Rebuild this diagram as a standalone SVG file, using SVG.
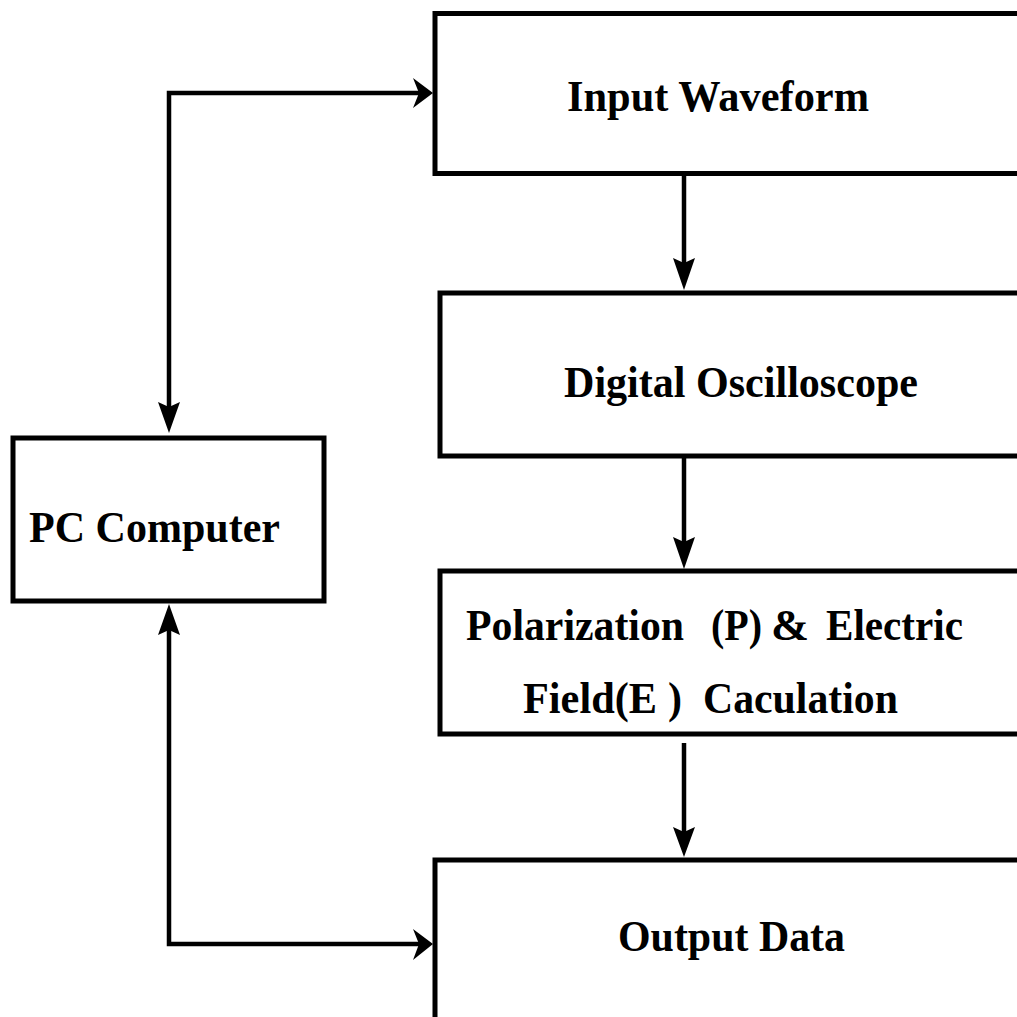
<svg xmlns="http://www.w3.org/2000/svg" width="1017" height="1017" viewBox="0 0 1017 1017">
<style>
.box{fill:#fff;stroke:#000;stroke-width:5}
.ln{fill:none;stroke:#000;stroke-width:4.5;stroke-linejoin:miter;stroke-linecap:butt}
.hd{fill:#000;stroke:none}
.t{font-family:"Liberation Serif","Times New Roman",serif;font-weight:bold;font-size:45px;fill:#000}
</style>
<rect width="1017" height="1017" fill="#fff"/>
<g id="input-waveform">
<rect class="box" x="435" y="13.5" width="640" height="160"/>
<text class="t" x="567" y="111" textLength="302" lengthAdjust="spacingAndGlyphs">Input Waveform</text>
</g>
<g id="digital-oscilloscope">
<rect class="box" x="440" y="293" width="640" height="163"/>
<text class="t" x="564" y="397" textLength="354" lengthAdjust="spacingAndGlyphs">Digital Oscilloscope</text>
</g>
<g id="pe-calculation">
<rect class="box" x="440" y="571" width="640" height="163"/>
<text class="t" x="466" y="640" textLength="218" lengthAdjust="spacingAndGlyphs">Polarization</text>
<text class="t" x="711" y="640" textLength="51" lengthAdjust="spacingAndGlyphs">(P)</text>
<text class="t" x="771" y="640" textLength="38" lengthAdjust="spacingAndGlyphs">&amp;</text>
<text class="t" x="826" y="640" textLength="137" lengthAdjust="spacingAndGlyphs">Electric</text>
<text class="t" x="523" y="713" textLength="134" lengthAdjust="spacingAndGlyphs">Field(E</text>
<text class="t" x="668" y="713" textLength="14" lengthAdjust="spacingAndGlyphs">)</text>
<text class="t" x="703" y="713" textLength="195" lengthAdjust="spacingAndGlyphs">Caculation</text>
</g>
<g id="output-data">
<rect class="box" x="435" y="860" width="640" height="200"/>
<text class="t" x="618" y="951" textLength="227" lengthAdjust="spacingAndGlyphs">Output Data</text>
</g>
<g id="pc-computer">
<rect class="box" x="13" y="438" width="311" height="163"/>
<text class="t" x="29" y="542" textLength="251" lengthAdjust="spacingAndGlyphs">PC Computer</text>
</g>
<g id="connectors">
<path class="ln" d="M169,407 V93 H420"/>
<path class="hd" d="M433,93 L413,78 L419,93 L413,108 Z"/>
<path class="hd" d="M169,433 L158,402 L169,407 L180,402 Z"/>
<path class="ln" d="M169,630 V944 H420"/>
<path class="hd" d="M433,944 L413,929 L419,944 L413,960 Z"/>
<path class="hd" d="M169,604 L158,635 L169,630 L180,635 Z"/>
<path class="ln" d="M684,174 V263"/>
<path class="hd" d="M684,290 L673,258 L684,263 L695,258 Z"/>
<path class="ln" d="M684,456 V542"/>
<path class="hd" d="M684,569 L673,537 L684,542 L695,537 Z"/>
<path class="ln" d="M684,743 V832"/>
<path class="hd" d="M684,857 L673,827 L684,832 L695,827 Z"/>
</g>
</svg>
